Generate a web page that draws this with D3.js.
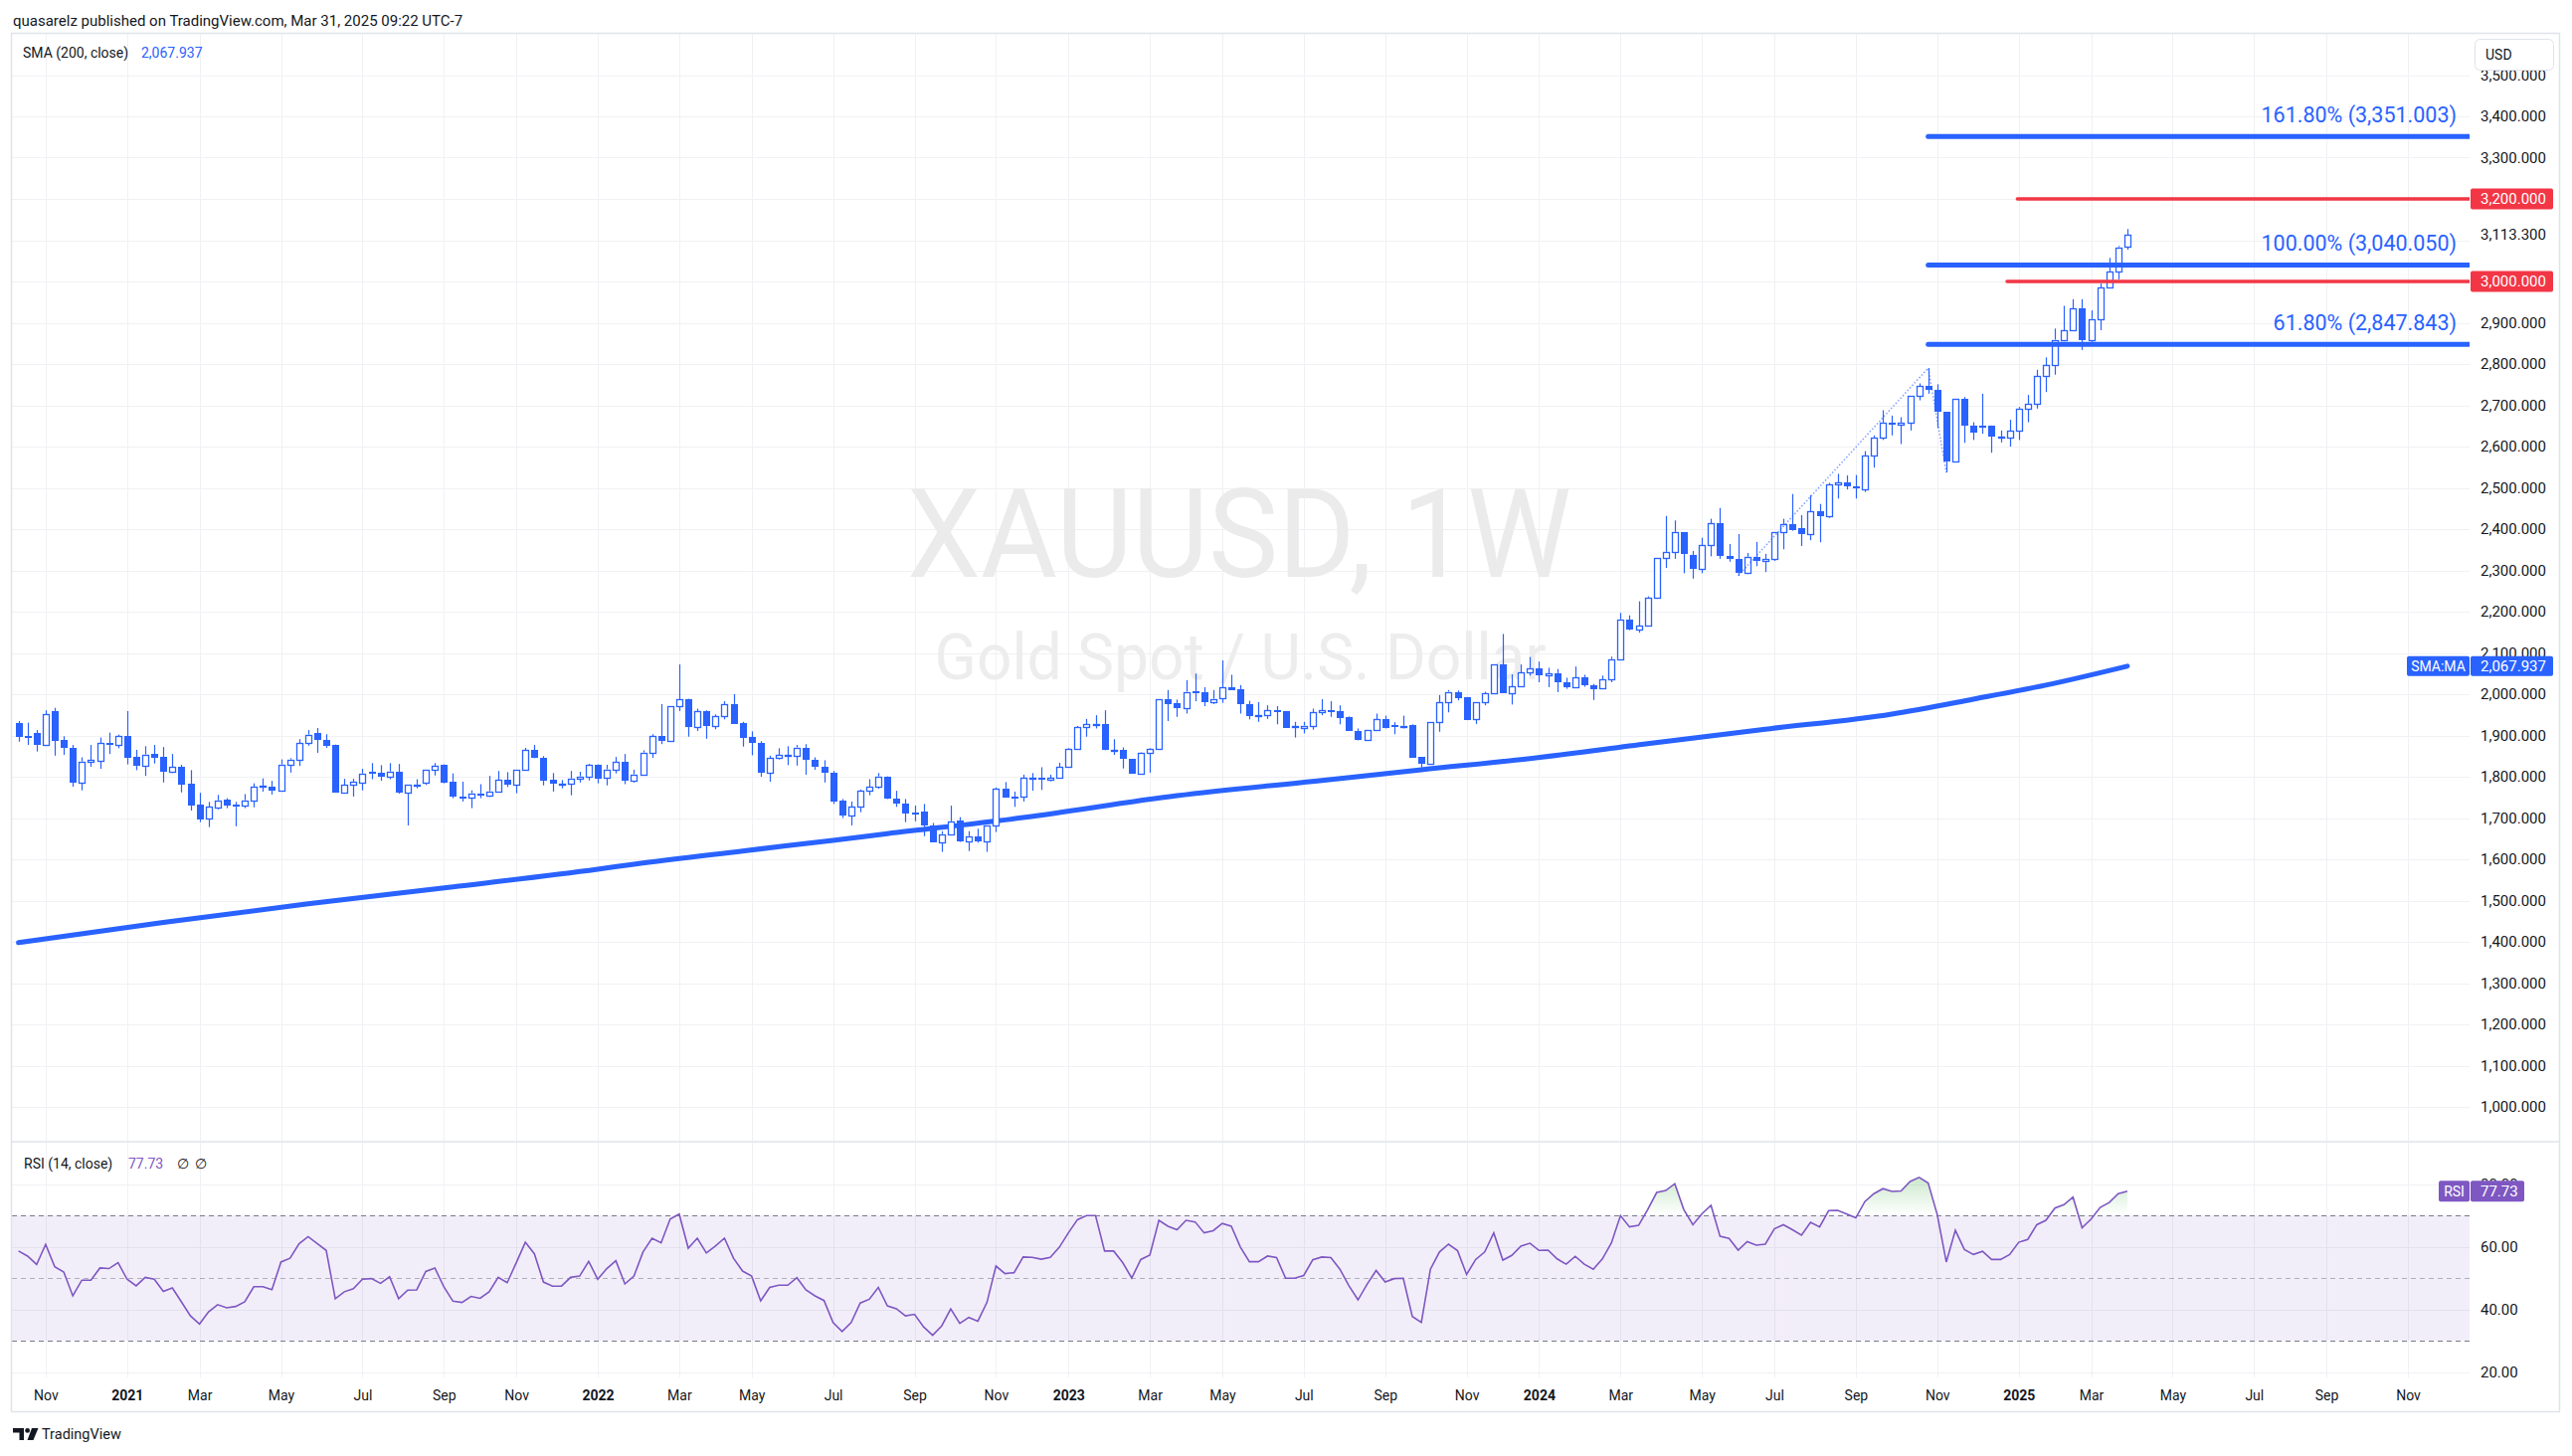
<!DOCTYPE html>
<html><head><meta charset="utf-8">
<script src="https://cdn.jsdelivr.net/npm/d3@7"></script>
<style>
html,body{margin:0;padding:0;background:#fff;}
svg{display:block;font-family:Roboto,"Noto Sans",sans-serif;}
</style></head><body>
<svg id="c" width="2586" height="1464"></svg>
<script>
// ---------- DATA ----------
const firstWeek = "2020-10-12"; // weekly bars, one per Monday
const openP = [1929,1900,1905,1878,1958,1889,1869,1786,1837,1838,
1881,1878,1898,1847,1826,1855,1847,1812,1823,1783,
1733,1700,1726,1745,1733,1731,1743,1776,1777,1767,
1830,1840,1881,1905,1890,1877,1762,1780,1786,1811,
1810,1800,1813,1762,1780,1785,1816,1828,1788,1753,
1750,1760,1755,1765,1792,1780,1816,1864,1845,1792,
1782,1782,1796,1801,1828,1797,1818,1835,1791,1806,
1859,1898,1887,1971,1988,1921,1958,1923,1947,1975,
1929,1896,1882,1810,1845,1851,1850,1871,1840,1825,
1810,1741,1706,1727,1766,1775,1801,1746,1736,1714,
1716,1682,1642,1661,1695,1644,1656,1644,1681,1770,
1753,1753,1797,1797,1792,1797,1823,1867,1920,1926,
1928,1864,1865,1843,1808,1857,1867,1989,1979,1967,
2007,2004,1981,1991,2016,2012,1977,1948,1949,1961,
1959,1921,1919,1924,1956,1961,1958,1944,1912,1888,
1914,1939,1925,1924,1925,1847,1832,1932,1980,2006,
1993,1939,1980,2003,2072,2003,2019,2052,2063,2046,
2050,2030,2018,2041,2022,2014,2035,2085,2181,2157,
2166,2234,2330,2345,2393,2337,2304,2361,2414,2336,
2328,2293,2333,2323,2328,2393,2412,2402,2387,2443,
2431,2508,2513,2503,2496,2578,2622,2658,2652,2658,
2723,2747,2737,2684,2563,2716,2651,2650,2651,2624,
2622,2638,2692,2704,2771,2797,2859,2881,2935,2857,
2909,2985,3024,3085];
const highP = [1935,1931,1913,1961,1967,1898,1877,1847,1877,1895,
1907,1902,1959,1865,1874,1877,1872,1855,1829,1816,
1761,1739,1756,1748,1739,1758,1784,1796,1790,1842,
1845,1891,1913,1918,1903,1878,1795,1795,1819,1833,
1828,1833,1831,1780,1794,1816,1833,1830,1808,1788,
1767,1782,1802,1814,1811,1816,1870,1877,1850,1809,
1792,1814,1812,1831,1830,1829,1848,1855,1817,1864,
1903,1976,1971,2072,1989,1965,1961,1951,1983,2000,
1933,1910,1886,1851,1869,1874,1877,1879,1847,1840,
1814,1746,1740,1769,1794,1809,1801,1766,1746,1730,
1734,1688,1668,1730,1702,1668,1674,1681,1774,1787,
1764,1805,1809,1823,1805,1834,1869,1923,1940,1949,
1961,1891,1871,1843,1859,1869,1989,2010,1987,2034,
2050,2017,2010,2082,2047,2022,1984,1981,1973,1971,
1959,1933,1933,1965,1988,1983,1973,1946,1917,1914,
1953,1948,1932,1948,1927,1847,1932,1998,2010,2009,
1993,1980,2006,2072,2146,2048,2072,2090,2079,2064,
2061,2040,2067,2047,2025,2045,2091,2197,2191,2225,
2237,2330,2432,2421,2393,2347,2379,2425,2451,2364,
2388,2342,2369,2340,2393,2425,2485,2434,2482,2461,
2512,2534,2530,2531,2589,2627,2688,2675,2671,2723,
2753,2790,2751,2684,2716,2720,2659,2728,2651,2639,
2665,2696,2725,2786,2816,2886,2941,2957,2957,2930,
2995,3057,3086,3127];
const lowP = [1885,1877,1861,1877,1851,1853,1776,1767,1824,1819,
1855,1869,1830,1816,1802,1832,1786,1809,1762,1718,
1690,1678,1721,1724,1680,1724,1726,1764,1757,1767,
1810,1826,1875,1858,1870,1762,1762,1752,1767,1794,
1790,1794,1759,1682,1772,1780,1803,1784,1748,1740,
1724,1748,1751,1762,1775,1760,1816,1845,1779,1764,
1772,1755,1786,1791,1784,1779,1808,1782,1786,1806,
1846,1879,1887,1959,1897,1911,1892,1915,1939,1928,
1873,1852,1800,1788,1842,1828,1827,1805,1817,1786,
1734,1700,1682,1714,1755,1771,1746,1727,1690,1692,
1656,1642,1618,1661,1642,1620,1640,1618,1666,1750,
1727,1740,1766,1768,1789,1797,1823,1867,1897,1917,
1864,1853,1820,1808,1806,1810,1867,1935,1945,1953,
1983,1971,1976,1979,2010,1953,1939,1933,1940,1927,
1919,1895,1905,1914,1949,1945,1927,1912,1888,1888,
1914,1917,1903,1917,1846,1821,1832,1909,1956,1985,
1937,1928,1973,2003,2003,1975,2018,2045,2029,2017,
2005,2013,2018,2018,1986,2014,2029,2083,2155,2149,
2166,2231,2306,2328,2293,2280,2293,2334,2328,2321,
2287,2291,2310,2296,2323,2351,2396,2359,2373,2368,
2427,2474,2496,2474,2490,2549,2616,2627,2606,2639,
2712,2728,2645,2537,2563,2609,2616,2631,2585,2610,
2600,2616,2659,2692,2732,2774,2855,2880,2834,2850,
2882,2985,3005,3077];
const closeP = [1897,1898,1878,1951,1887,1870,1786,1837,1840,1881,
1878,1898,1846,1827,1854,1846,1812,1823,1781,1731,
1697,1727,1743,1731,1730,1743,1775,1778,1767,1830,
1842,1881,1902,1889,1875,1762,1780,1788,1808,1808,
1801,1813,1762,1780,1781,1816,1826,1786,1752,1750,
1760,1755,1765,1792,1781,1816,1864,1845,1791,1782,
1782,1796,1801,1828,1796,1818,1835,1791,1806,1859,
1898,1887,1971,1988,1921,1958,1923,1947,1975,1928,
1894,1882,1810,1845,1852,1852,1871,1840,1825,1810,
1740,1706,1727,1766,1775,1801,1746,1735,1711,1711,
1682,1642,1661,1692,1644,1656,1644,1681,1770,1750,
1750,1797,1797,1792,1797,1823,1867,1920,1927,1928,
1864,1865,1843,1808,1857,1867,1989,1976,1967,2006,
2003,1981,1989,2016,2010,1977,1946,1949,1961,1957,
1919,1922,1924,1956,1961,1957,1943,1912,1888,1914,
1939,1917,1920,1924,1846,1832,1932,1980,2006,1991,
1937,1980,2002,2072,2003,2019,2052,2063,2045,2050,
2030,2018,2041,2022,2013,2035,2085,2181,2157,2166,
2234,2330,2345,2393,2339,2304,2361,2414,2334,2328,
2293,2333,2323,2328,2393,2412,2398,2387,2443,2431,
2508,2513,2503,2498,2578,2622,2658,2652,2658,2723,
2747,2737,2684,2563,2716,2651,2633,2648,2624,2624,
2638,2692,2704,2771,2797,2859,2881,2935,2857,2909,
2985,3024,3083,3113.3];
const rsiV = [58.6,57.0,54.3,60.7,53.6,51.9,44.3,49.3,49.3,53.2,
53.0,54.9,49.6,47.5,50.2,49.6,45.7,46.8,42.4,37.9,
35.3,39.2,41.5,40.5,40.9,42.4,47.2,47.2,46.3,55.1,
56.3,60.9,63.2,61.0,58.8,43.4,45.6,46.6,49.6,49.8,
48.3,50.4,43.4,46.1,46.2,52.1,53.2,47.2,42.6,42.2,
44.1,43.5,45.6,50.2,48.5,54.9,61.4,57.7,48.7,47.4,
47.4,50.2,50.6,55.3,49.6,53.0,55.5,48.1,50.6,58.3,
62.7,61.2,68.8,70.4,59.5,62.7,58.0,60.2,62.7,56.3,
52.2,50.6,42.7,47.0,47.7,47.7,50.1,46.2,44.3,42.8,
35.8,32.9,35.8,42.0,43.2,47.0,41.1,40.2,37.9,38.4,
34.4,31.7,34.7,40.1,35.5,37.4,36.2,42.2,53.8,51.4,
51.7,56.7,56.6,56.0,56.6,59.8,64.4,68.6,69.9,69.9,
58.6,58.6,54.9,50.0,55.9,57.3,68.4,66.5,65.4,68.4,
67.9,64.4,65.1,67.4,66.5,59.9,55.2,55.2,57.0,56.5,
49.9,49.9,50.8,55.8,56.7,56.5,52.8,47.5,43.0,48.0,
52.4,48.7,49.8,49.9,37.7,35.8,52.8,58.3,60.8,58.7,
51.1,55.9,58.3,64.4,55.7,57.2,60.2,61.1,58.8,58.9,
56.1,54.4,56.9,54.4,52.8,56.1,61.2,69.9,66.3,66.8,
71.8,77.3,77.9,80.1,71.8,67.0,70.5,73.2,63.3,62.6,
58.9,61.6,60.5,60.8,65.7,67.0,65.4,63.7,67.8,66.3,
71.5,71.6,70.4,69.2,74.4,76.9,78.5,77.6,77.8,80.8,
82.1,80.3,70.2,55.1,65.2,59.1,57.5,58.5,55.9,55.9,
57.5,61.4,62.3,67.0,68.4,72.3,73.4,75.8,66.0,68.8,
72.5,74.1,76.9,77.73];
// SMA(200) read at these bar indices
const smaIdx = [0,16,32,48,64,68,80,90,96,111,128,144,155,167,180,193,207,216,224,233];
const smaVal = [1398,1447,1492,1533,1576,1588,1620,1646,1662,1701,1754,1791,1817,1844,1880,1915,1952,1988,2022,2067.937];
// Fib extension anchors (bar index, price) and levels
const fibAnchorIdx = [190,211,213];
const fibAnchorPrice = [2286.9,2790.07,2536.91];
const fibRatios = ["161.80%","100.00%","61.80%"];
const fibValues = [3351.003,3040.050,2847.843];
// Horizontal rays
const rayValues = [3200,3000];
const rayStart = ["2025-01-05","2024-12-28"];
// Axis ticks
const priceGrid = [1000,1100,1200,1300,1400,1500,1600,1700,1800,1900,2000,2100,2200,2300,2400,2500,2600,2700,2800,2900,3000,3100,3200,3300,3400,3500];
const priceLabels = [1000,1100,1200,1300,1400,1500,1600,1700,1800,1900,2000,2100,2200,2300,2400,2500,2600,2700,2800,2900,3300,3400,3500];
const lastPrice = 3113.3;
const smaLast = 2067.937;
const rsiLast = 77.73;
const rsiTicks = [20,40,60,80];
const timeTickDates = ["2020-11-02","2021-01-04","2021-03-01","2021-05-03","2021-07-05","2021-09-06","2021-11-01","2022-01-03","2022-03-07","2022-05-02","2022-07-04","2022-09-05","2022-11-07","2023-01-02","2023-03-06","2023-05-01","2023-07-03","2023-09-04","2023-11-06","2024-01-01","2024-03-04","2024-05-06","2024-07-01","2024-09-02","2024-11-04","2025-01-06","2025-03-03","2025-05-05","2025-07-07","2025-09-01","2025-11-03"];
const timeTickLabels = ["Nov","2021","Mar","May","Jul","Sep","Nov","2022","Mar","May","Jul","Sep","Nov","2023","Mar","May","Jul","Sep","Nov","2024","Mar","May","Jul","Sep","Nov","2025","Mar","May","Jul","Sep","Nov"];

// ---------- LAYOUT ----------
const BLUE = "#2962FF", RED = "#F23645", PURPLE = "#7E57C2", TXT = "#131722", GRID = "#F0F1F4";
const paneL = 12, paneR = 2483, mainT = 34, mainB = 1147, rsiT = 1149, rsiB = 1385;
const parse = d3.utcParse("%Y-%m-%d");
const start = parse(firstWeek);
const weeks = openP.map((_, i) => d3.utcDay.offset(start, 7 * i));
const x = d3.scaleUtc().domain([weeks[0], weeks[weeks.length - 1]]).range([18.6, 2138.9]);
const y = d3.scaleLinear().domain([1000, 3500]).range([1113, 75.5]);
const yR = d3.scaleLinear().domain([20, 80]).range([1379.5, 1190.5]);
const fmt3 = d3.format(",.3f");

const svg = d3.select("#c");
const defs = svg.append("defs");
defs.append("clipPath").attr("id", "clipMain").append("rect")
  .attr("x", paneL).attr("y", mainT).attr("width", paneR - paneL).attr("height", mainB - mainT);
defs.append("clipPath").attr("id", "clipRsi").append("rect")
  .attr("x", paneL).attr("y", rsiT).attr("width", paneR - paneL).attr("height", rsiB - rsiT);
defs.append("clipPath").attr("id", "clipOB").append("rect")
  .attr("x", paneL).attr("y", rsiT).attr("width", paneR - paneL).attr("height", yR(70) - rsiT);
defs.append("clipPath").attr("id", "clipOS").append("rect")
  .attr("x", paneL).attr("y", yR(30)).attr("width", paneR - paneL).attr("height", rsiB - yR(30));
defs.append("clipPath").attr("id", "clip80").append("rect")
  .attr("x", 2484).attr("y", rsiT).attr("width", 90).attr("height", yR(rsiLast) - 10.5 - rsiT);
const gOB = defs.append("linearGradient").attr("id", "gradOB").attr("gradientUnits", "userSpaceOnUse")
  .attr("x1", 0).attr("x2", 0).attr("y1", yR(86)).attr("y2", yR(70));
gOB.append("stop").attr("offset", 0).attr("stop-color", "rgb(76,175,80)").attr("stop-opacity", 0.38);
gOB.append("stop").attr("offset", 1).attr("stop-color", "rgb(76,175,80)").attr("stop-opacity", 0);
const gOS = defs.append("linearGradient").attr("id", "gradOS").attr("gradientUnits", "userSpaceOnUse")
  .attr("x1", 0).attr("x2", 0).attr("y1", yR(30)).attr("y2", yR(14));
gOS.append("stop").attr("offset", 0).attr("stop-color", "rgb(242,54,69)").attr("stop-opacity", 0);
gOS.append("stop").attr("offset", 1).attr("stop-color", "rgb(242,54,69)").attr("stop-opacity", 0.38);

svg.append("rect").attr("width", 2586).attr("height", 1464).attr("fill", "#fff");

// grid
const tickDates = timeTickDates.map(parse);
const grid = svg.append("g").attr("stroke", GRID).attr("stroke-width", 1);
grid.selectAll(".hg").data(priceGrid).join("line")
  .attr("x1", paneL).attr("x2", paneR)
  .attr("y1", d => Math.round(y(d)) + 0.5).attr("y2", d => Math.round(y(d)) + 0.5);
grid.selectAll(".rg").data(rsiTicks).join("line")
  .attr("x1", paneL).attr("x2", paneR)
  .attr("y1", d => Math.round(yR(d)) + 0.5).attr("y2", d => Math.round(yR(d)) + 0.5);
grid.selectAll(".vg").data(tickDates).join("line")
  .attr("x1", d => Math.round(x(d)) + 0.5).attr("x2", d => Math.round(x(d)) + 0.5)
  .attr("y1", mainT).attr("y2", mainB);
grid.selectAll(".vg2").data(tickDates).join("line")
  .attr("x1", d => Math.round(x(d)) + 0.5).attr("x2", d => Math.round(x(d)) + 0.5)
  .attr("y1", rsiT).attr("y2", rsiB);

// watermark
svg.append("text").attr("x", 1246).attr("y", 580).attr("text-anchor", "middle")
  .attr("font-size", 124).attr("textLength", 668).attr("lengthAdjust", "spacingAndGlyphs")
  .attr("fill", "#EBEBEC").text("XAUUSD, 1W");
svg.append("text").attr("x", 1247).attr("y", 683).attr("text-anchor", "middle")
  .attr("font-size", 64).attr("textLength", 615).attr("lengthAdjust", "spacingAndGlyphs")
  .attr("fill", "#EDEDEE").text("Gold Spot / U.S. Dollar");

// main pane
const main = svg.append("g").attr("clip-path", "url(#clipMain)");
const smaLine = d3.line().x(d => x(weeks[d[0]])).y(d => y(d[1])).curve(d3.curveMonotoneX);
main.append("path").datum(smaIdx.map((k, j) => [k, smaVal[j]]))
  .attr("d", smaLine).attr("fill", "none").attr("stroke", BLUE).attr("stroke-width", 5)
  .attr("stroke-linecap", "round");

const bars = weeks.map((d, i) => ({ date: d, o: openP[i], h: highP[i], l: lowP[i], c: closeP[i] }));
const cg = main.append("g");
bars.forEach(b => {
  const cx = Math.round(x(b.date)) + 0.5;
  const up = b.c >= b.o;
  const yT = y(Math.max(b.o, b.c)), yB = y(Math.min(b.o, b.c));
  if (up) {
    cg.append("line").attr("x1", cx).attr("x2", cx).attr("y1", y(b.h)).attr("y2", yT).attr("stroke", BLUE).attr("stroke-width", 1.2);
    cg.append("line").attr("x1", cx).attr("x2", cx).attr("y1", yB).attr("y2", y(b.l)).attr("stroke", BLUE).attr("stroke-width", 1.2);
    const t = Math.round(yT) + 0.5, bt = Math.max(t + 1, Math.round(yB) + 0.5);
    cg.append("rect").attr("x", cx - 3).attr("y", t).attr("width", 6).attr("height", bt - t)
      .attr("fill", "#fff").attr("stroke", BLUE).attr("stroke-width", 1.3);
  } else {
    cg.append("line").attr("x1", cx).attr("x2", cx).attr("y1", y(b.h)).attr("y2", y(b.l)).attr("stroke", BLUE).attr("stroke-width", 1.2);
    const t = Math.round(yT), bt = Math.max(t + 2, Math.round(yB));
    cg.append("rect").attr("x", cx - 3.5).attr("y", t).attr("width", 7).attr("height", bt - t).attr("fill", BLUE);
  }
});

// fib dotted trend lines
main.append("path").datum(fibAnchorIdx.map((k, j) => [k, fibAnchorPrice[j]]))
  .attr("d", d3.line().x(d => x(weeks[d[0]])).y(d => y(d[1])))
  .attr("fill", "none").attr("stroke", BLUE).attr("stroke-opacity", 0.6)
  .attr("stroke-width", 1.5).attr("stroke-dasharray", "1.5,2");
// fib levels
const fibX0 = x(weeks[fibAnchorIdx[1]]);
main.selectAll(".fib").data(fibValues).join("line")
  .attr("x1", fibX0).attr("x2", paneR).attr("y1", d => y(d)).attr("y2", d => y(d))
  .attr("stroke", BLUE).attr("stroke-width", 5).attr("stroke-linecap", "round");
main.selectAll(".fibt").data(fibValues).join("text")
  .attr("x", 2470).attr("y", d => y(d) - 14).attr("text-anchor", "end")
  .attr("font-size", 21.5).attr("fill", BLUE)
  .text((d, j) => `${fibRatios[j]} (${fmt3(d)})`);
// red horizontal rays
main.selectAll(".ray").data(rayValues).join("line")
  .attr("x1", (d, j) => x(parse(rayStart[j]))).attr("x2", paneR + 4)
  .attr("y1", d => y(d)).attr("y2", d => y(d))
  .attr("stroke", RED).attr("stroke-width", 3.5).attr("stroke-linecap", "round");

// RSI pane
const rsiG = svg.append("g").attr("clip-path", "url(#clipRsi)");
rsiG.append("rect").attr("x", paneL).attr("width", paneR - paneL)
  .attr("y", yR(70)).attr("height", yR(30) - yR(70)).attr("fill", "rgba(126,87,194,0.1)");
[[70, "#787B86", 1], [50, "rgba(120,123,134,0.55)", 1], [30, "#787B86", 1]].forEach(([v, col, w]) => {
  rsiG.append("line").attr("x1", paneL).attr("x2", paneR)
    .attr("y1", Math.round(yR(v)) + 0.5).attr("y2", Math.round(yR(v)) + 0.5)
    .attr("stroke", col).attr("stroke-width", w).attr("stroke-dasharray", "5,4");
});
const rsiData = weeks.map((d, i) => ({ date: d, v: rsiV[i] }));
rsiG.append("path").datum(rsiData).attr("clip-path", "url(#clipOB)")
  .attr("d", d3.area().x(d => x(d.date)).y0(yR(70)).y1(d => yR(d.v)))
  .attr("fill", "url(#gradOB)");
rsiG.append("path").datum(rsiData).attr("clip-path", "url(#clipOS)")
  .attr("d", d3.area().x(d => x(d.date)).y0(yR(30)).y1(d => yR(d.v)))
  .attr("fill", "url(#gradOS)");
rsiG.append("path").datum(rsiData)
  .attr("d", d3.line().x(d => x(d.date)).y(d => yR(d.v)))
  .attr("fill", "none").attr("stroke", PURPLE).attr("stroke-width", 1.6);

// price axis
const pAxis = svg.append("g").attr("transform", "translate(2494,0)")
  .call(d3.axisRight(y).tickValues(priceLabels).tickFormat(fmt3).tickSize(0).tickPadding(0));
pAxis.select(".domain").remove();
pAxis.selectAll("text").attr("font-size", 15).attr("fill", TXT).attr("font-family", "Roboto, 'Noto Sans', sans-serif");
svg.append("text").attr("x", 2494).attr("y", y(lastPrice)).attr("dy", "0.35em")
  .attr("font-size", 15).attr("fill", TXT).text(fmt3(lastPrice));
// RSI axis (80 label only peeks out above the RSI value box, as in the original)
const rAxis = svg.append("g").attr("transform", "translate(2494,0)")
  .call(d3.axisRight(yR).tickValues(rsiTicks).tickFormat(d3.format(".2f")).tickSize(0).tickPadding(0));
rAxis.select(".domain").remove();
rAxis.selectAll("text").attr("font-size", 15).attr("fill", TXT).attr("font-family", "Roboto, 'Noto Sans', sans-serif");
rAxis.selectAll(".tick").filter(d => d === 80).attr("clip-path", "url(#clip80)");
// clip is in user space of the tick group; adjust by translating the clip rect
d3.select("#clip80 rect").attr("x", -10).attr("y", -40).attr("width", 100).attr("height", (yR(rsiLast) - 10.5) - yR(80) + 40);

// label boxes on price axis
rayValues.forEach(v => {
  svg.append("rect").attr("x", 2484).attr("y", y(v) - 10.5).attr("width", 83).attr("height", 21).attr("rx", 2).attr("fill", RED);
  svg.append("text").attr("x", 2494).attr("y", y(v)).attr("dy", "0.35em").attr("font-size", 15).attr("fill", "#fff").text(fmt3(v));
});
svg.append("rect").attr("x", 2420).attr("y", y(smaLast) - 10).attr("width", 63).attr("height", 20).attr("rx", 2).attr("fill", BLUE);
svg.append("text").attr("x", 2451.5).attr("y", y(smaLast)).attr("dy", "0.35em").attr("text-anchor", "middle").attr("font-size", 14).attr("fill", "#fff").text("SMA:MA");
svg.append("rect").attr("x", 2484).attr("y", y(smaLast) - 10).attr("width", 83).attr("height", 20).attr("rx", 2).attr("fill", BLUE);
svg.append("text").attr("x", 2494).attr("y", y(smaLast)).attr("dy", "0.35em").attr("font-size", 15).attr("fill", "#fff").text(fmt3(smaLast));
svg.append("rect").attr("x", 2452).attr("y", yR(rsiLast) - 10.5).attr("width", 31).attr("height", 21).attr("rx", 2).attr("fill", PURPLE);
svg.append("text").attr("x", 2467.5).attr("y", yR(rsiLast)).attr("dy", "0.35em").attr("text-anchor", "middle").attr("font-size", 14).attr("fill", "#fff").text("RSI");
svg.append("rect").attr("x", 2484).attr("y", yR(rsiLast) - 10.5).attr("width", 54).attr("height", 21).attr("rx", 2).attr("fill", PURPLE);
svg.append("text").attr("x", 2494).attr("y", yR(rsiLast)).attr("dy", "0.35em").attr("font-size", 15).attr("fill", "#fff").text(rsiLast.toFixed(2));
// USD box
svg.append("rect").attr("x", 2488.5).attr("y", 39.5).attr("width", 79).attr("height", 31).attr("rx", 5)
  .attr("fill", "#fff").attr("stroke", "#E0E3EB");
svg.append("text").attr("x", 2499).attr("y", 55).attr("dy", "0.35em").attr("font-size", 14).attr("fill", TXT).text("USD");

// time axis
const tAxis = svg.append("g").attr("transform", "translate(0,1403)")
  .call(d3.axisBottom(x).tickValues(tickDates).tickFormat((d, i) => timeTickLabels[i]).tickSize(0).tickPadding(0));
tAxis.select(".domain").remove();
tAxis.selectAll("text").attr("y", 0).attr("dy", "0.35em").attr("font-size", 14).attr("fill", TXT)
  .attr("font-family", "Roboto, 'Noto Sans', sans-serif")
  .attr("font-weight", (d, i) => /^\d{4}$/.test(timeTickLabels[i]) ? 700 : 400);

// frame & separators
svg.append("line").attr("x1", paneL).attr("x2", 2573).attr("y1", 1148).attr("y2", 1148).attr("stroke", "#E0E3EB").attr("stroke-width", 1.5);
svg.append("rect").attr("x", 11.5).attr("y", 33.5).attr("width", 2562).attr("height", 1386)
  .attr("fill", "none").attr("stroke", "#E0E3EB").attr("stroke-width", 1.5);

// legends & captions
svg.append("text").attr("x", 13).attr("y", 21).attr("dy", "0.35em").attr("font-size", 15).attr("fill", TXT)
  .text("quasarelz published on TradingView.com, Mar 31, 2025 09:22 UTC-7");
const smaLeg = svg.append("text").attr("x", 23).attr("y", 53).attr("dy", "0.35em").attr("font-size", 14).attr("fill", TXT);
smaLeg.append("tspan").text("SMA (200, close)");
smaLeg.append("tspan").attr("x", 142).attr("fill", BLUE).text(fmt3(smaLast));
const rsiLeg = svg.append("text").attr("x", 24).attr("y", 1170).attr("dy", "0.35em").attr("font-size", 14).attr("fill", TXT);
rsiLeg.append("tspan").text("RSI (14, close)");
rsiLeg.append("tspan").attr("x", 129).attr("fill", PURPLE).text(rsiLast.toFixed(2));
rsiLeg.append("tspan").attr("x", 178).text("\u2205");
rsiLeg.append("tspan").attr("x", 196).text("\u2205");

// TradingView logo
const logo = svg.append("g").attr("fill", TXT);
logo.append("path").attr("d", "M13,1436 H24 V1448 H19.5 V1440.5 H13 Z");
logo.append("circle").attr("cx", 27.6).attr("cy", 1438.4).attr("r", 2.4);
logo.append("path").attr("d", "M32,1436 H38.5 L33.5,1448 H27.5 Z");
svg.append("text").attr("x", 42).attr("y", 1442).attr("dy", "0.35em").attr("font-size", 14.5).attr("fill", TXT).text("TradingView");
</script>
</body></html>
